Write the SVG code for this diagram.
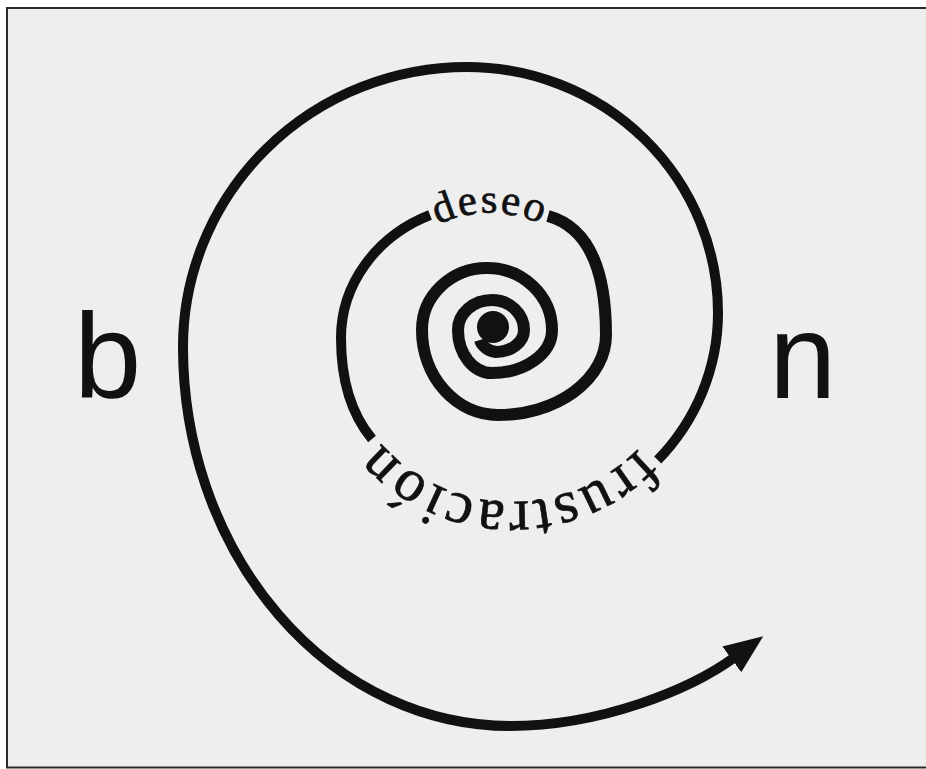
<svg xmlns="http://www.w3.org/2000/svg" xmlns:xlink="http://www.w3.org/1999/xlink" width="926" height="769" viewBox="0 0 926 769">
  <style>
    .line { fill: none; stroke: #111; stroke-linecap: butt; stroke-linejoin: round; }
    .thin { stroke-width: 10; }
    .thick { stroke-width: 12; }
    .big { font-family: "Liberation Sans", Arial, sans-serif; font-size: 121px; fill: #111; }
    .arc { font-family: "Liberation Serif", "Times New Roman", serif; fill: #111; stroke: #111; stroke-width: 0.7; }
  </style>
  <defs>
    <marker id="ah" markerWidth="44" markerHeight="36" viewBox="0 -18 44 36" refX="4" refY="0" orient="auto" markerUnits="userSpaceOnUse">
      <path d="M0,-16 L39,0 L0,16 Z" fill="#111"/>
    </marker>
    <path id="pDeseo" d="M 420 235.1 A 122 122 0 0 1 560 235.1"/>
    <path id="pFrus" d="M 664.4 414 A 176 176 0 0 1 355.2 405.9"/>
  </defs>

  <rect x="0" y="0" width="926" height="769" fill="#ffffff"/>
  <g id="frame">
    <rect x="7" y="8" width="925" height="759.5" fill="#eeeeee" stroke="#2a2a2a" stroke-width="2"/>
  </g>

  <g id="connectors">
    <path id="spiral-inner" class="line thick" d="M 548 216 C 584 226, 606 262, 606 335 A 108 80 0 0 1 498 415 A 76 85 0 0 1 422 330 A 65 62 0 0 1 487 268 A 65 62 0 0 1 552 330 A 60 43 0 0 1 492 373 A 34 43 0 0 1 458 330 A 34 30 0 0 1 492 300 A 32 30 0 0 1 524 330 A 28 22 0 0 1 496 352 A 20 16 0 0 1 480 340"/>
    <circle id="spiral-core" cx="493" cy="327" r="16" fill="#111"/>
    <path id="spiral-middle" class="line thin" d="M 372 439 C 352 415, 341 380, 341 338 A 148 134 0 0 1 430 215"/>
    <path id="spiral-outer" class="line thin" marker-end="url(#ah)" d="M 657.7 460 A 223 215 0 0 0 718 313 A 251 246 0 0 0 467 67 A 284 280 0 0 0 183 347 A 327 379 0 0 0 510 726 C 600 726, 690 690, 735 657"/>
  </g>

  <g id="label-b"><text class="big" x="74" y="397">b</text></g>
  <g id="label-n"><text class="big" x="769" y="398">n</text></g>
  <g id="label-deseo">
    <text class="arc" font-size="43" letter-spacing="2"><textPath xlink:href="#pDeseo" href="#pDeseo" startOffset="50%" text-anchor="middle">deseo</textPath></text>
  </g>
  <g id="label-frustracion">
    <text class="arc" font-size="60" letter-spacing="3"><textPath xlink:href="#pFrus" href="#pFrus" startOffset="50%" text-anchor="middle">frustración</textPath></text>
  </g>
</svg>
